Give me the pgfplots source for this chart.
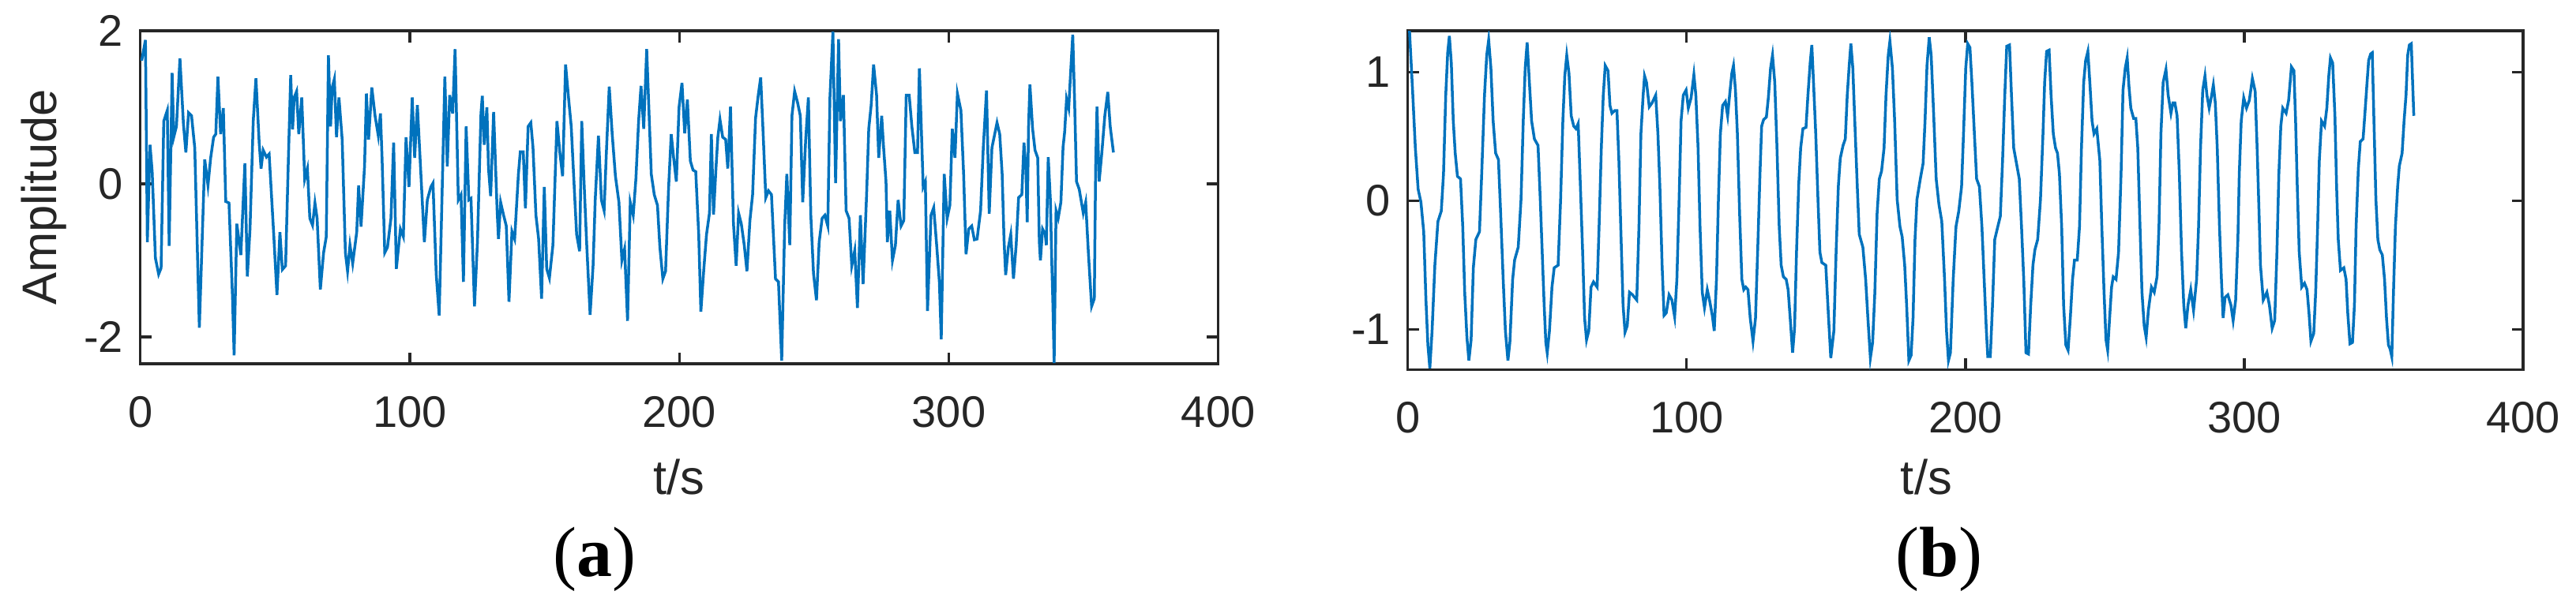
\documentclass[border=0pt]{standalone}
\usepackage{fontspec}
\setmainfont{Liberation Sans}
\newfontfamily\seriffont{Liberation Serif}
\usepackage{pgfplots}
\pgfplotsset{compat=1.18}
\usepackage{pgfplotstable}
\definecolor{mblue}{RGB}{0,114,189}
\definecolor{agray}{RGB}{38,38,38}
\pgfplotstableread{
t v
0.5 1.61
1.9 1.88
2.6 -0.76
3.6 0.51
4.4 0.16
5.6 -0.97
6.8 -1.18
7.7 -1.10
8.7 0.82
10.0 0.96
10.7 -0.81
11.8 1.45
12.4 0.61
13.4 0.75
14.7 1.64
16.0 0.78
16.9 0.41
17.9 0.93
19.0 0.89
20.2 0.47
21.9 -1.88
23.1 -0.56
23.9 0.32
25.1 -0.02
26.1 0.34
27.2 0.61
28.0 0.65
28.8 1.40
29.8 0.65
30.8 0.99
31.7 -0.23
32.9 -0.25
34.2 -1.48
34.8 -2.24
35.8 -0.52
37.3 -0.93
38.8 0.27
39.7 -1.21
40.7 -0.59
41.9 0.82
42.9 1.38
44.1 0.54
44.8 0.20
45.6 0.44
46.8 0.35
47.8 0.39
49.5 -0.66
50.7 -1.45
51.8 -0.63
52.7 -1.12
53.9 -1.07
54.9 0.27
55.8 1.42
56.5 0.71
57.1 1.13
58.0 1.21
58.8 0.65
59.9 1.13
61.0 0.06
62.0 0.20
62.9 -0.45
63.9 -0.54
64.8 -0.25
65.6 -0.45
66.8 -1.38
68.0 -0.90
69.0 -0.69
69.8 1.68
70.6 0.75
71.2 1.26
72.0 1.37
72.8 0.61
73.7 1.13
74.9 0.58
76.1 -0.90
76.9 -1.14
77.8 -0.80
78.8 -1.04
80.3 -0.63
81.0 -0.02
81.9 -0.56
83.2 0.23
83.9 1.18
84.7 0.58
85.9 1.26
87.1 0.89
88.3 0.63
89.1 0.92
89.7 0.34
90.7 -0.90
91.7 -0.83
93.0 -0.45
94.0 0.54
95.0 -1.11
96.5 -0.59
97.6 -0.69
98.6 0.61
99.7 -0.04
100.9 1.13
101.8 0.34
102.8 1.03
103.9 0.27
105.4 -0.76
106.5 -0.21
107.8 -0.04
108.6 0.01
109.8 -1.18
110.9 -1.72
112.2 0.20
113.0 1.40
113.9 0.23
114.8 1.16
115.9 0.92
116.8 1.76
118.0 -0.21
119.0 -0.14
119.9 -1.28
120.9 0.75
121.9 -0.21
122.7 -0.19
124.0 -1.60
125.1 -0.76
126.4 0.92
126.9 1.15
127.6 0.51
128.6 1.00
129.2 0.20
130.0 -0.16
131.1 0.94
132.4 -0.35
132.9 -0.72
133.7 -0.24
134.8 -0.41
135.8 -0.55
136.8 -1.54
137.9 -0.62
138.9 -0.72
140.3 0.13
141.0 0.42
142.1 0.42
142.9 -0.32
143.9 0.75
144.9 0.80
145.7 0.48
146.8 -0.41
147.8 -0.72
148.9 -1.50
149.9 -0.04
150.8 -1.11
151.8 -1.23
153.1 -0.80
154.6 0.82
155.7 0.40
156.7 0.10
157.8 1.56
158.8 1.16
159.9 0.75
161.2 -0.18
161.9 -0.66
163.0 -0.88
163.8 0.82
164.6 0.07
165.6 -0.76
166.9 -1.71
168.0 -1.07
168.8 -0.21
170.0 0.63
171.1 -0.21
172.1 -0.35
172.9 0.38
174.0 1.27
175.1 0.65
176.3 0.10
177.6 -0.24
178.7 -1.00
179.7 -0.85
180.8 -1.79
181.8 -0.24
182.9 -0.41
183.9 0.07
184.9 0.82
185.8 1.28
186.8 0.72
187.9 1.76
188.6 1.09
189.6 0.13
190.7 -0.14
191.9 -0.28
192.8 -0.83
193.9 -1.24
194.9 -1.14
196.0 -0.07
197.0 0.65
197.9 0.34
198.9 0.03
199.9 1.00
201.0 1.32
202.0 0.66
203.0 1.10
204.1 0.30
205.1 0.18
206.1 0.16
207.2 -0.66
208.0 -1.67
209.1 -1.11
210.1 -0.66
211.2 -0.38
211.9 0.65
212.7 -0.40
213.6 0.20
214.3 0.61
215.1 0.84
216.1 0.61
217.2 0.58
218.0 0.20
219.0 1.01
220.1 -0.52
221.1 -1.07
222.0 -0.38
223.0 -0.52
224.1 -0.80
225.1 -1.14
226.2 -0.48
227.2 -0.14
228.3 0.86
229.3 1.16
230.2 1.39
231.0 0.75
232.1 -0.18
233.1 -0.09
234.2 -0.14
235.7 -1.24
236.8 -1.28
238.0 -2.31
239.1 -0.55
239.9 0.13
241.0 -0.80
241.8 0.89
242.8 1.21
243.9 1.06
244.9 0.89
245.8 -0.24
246.9 0.58
247.9 1.13
248.8 -0.41
249.8 -1.17
250.9 -1.52
251.9 -0.76
253.0 -0.45
254.0 -0.41
255.1 -0.55
255.9 1.13
257.0 1.99
258.0 0.01
259.1 1.89
259.8 0.82
260.9 1.16
261.9 -0.35
263.0 -0.45
264.0 -1.07
265.1 -0.87
266.1 -1.62
267.2 -0.41
268.2 -1.31
269.5 -0.14
270.3 0.72
271.2 1.03
272.1 1.56
273.2 1.16
274.0 0.34
275.1 0.89
275.8 0.48
276.7 0.03
277.2 -0.76
278.1 -0.35
279.1 -1.00
280.2 -0.80
281.2 -0.21
282.3 -0.55
283.3 -0.48
284.2 1.16
285.3 1.16
286.3 0.75
287.4 0.41
288.4 0.41
289.1 1.51
290.5 -0.04
291.3 0.03
292.1 -1.66
293.4 -0.41
294.4 -0.31
295.5 -0.80
296.5 -1.28
297.2 -2.03
298.3 0.13
299.4 -0.45
300.4 -0.28
301.3 0.72
302.3 0.34
303.2 1.18
304.5 0.96
305.5 0.13
306.4 -0.92
307.4 -0.59
308.5 -0.55
309.5 -0.73
310.5 -0.72
311.8 -0.35
312.8 0.47
314.0 1.22
315.0 -0.39
316.0 0.47
317.9 0.80
318.9 0.65
319.8 0.13
320.5 -0.73
321.1 -1.19
322.1 -0.83
323.0 -0.66
324.0 -1.24
325.0 -0.80
325.9 -0.18
327.1 -0.14
327.9 0.54
328.6 0.20
329.1 -0.50
329.6 0.75
330.1 1.30
331.1 0.72
332.0 0.44
333.0 0.34
333.6 -0.76
334.0 -1.00
334.8 -0.59
335.8 -0.66
336.2 -0.80
336.9 0.35
337.7 -0.21
338.2 -1.00
338.6 -1.52
339.1 -2.34
339.8 -0.35
340.6 -0.45
341.6 -0.24
342.4 0.48
343.0 0.68
343.7 1.11
344.5 0.99
345.3 1.51
346.0 1.95
346.7 1.06
347.4 0.03
348.4 -0.07
349.9 -0.38
350.8 -0.24
351.8 -0.90
353.0 -1.60
354.0 -1.50
354.5 0.23
355.0 1.01
355.8 0.03
356.8 0.41
357.9 0.89
359.0 1.20
359.9 0.75
361.1 0.41
}\sigA
\pgfplotstableread{
t v
0.6 1.32
1.7 0.86
2.7 0.41
3.7 0.09
4.7 -0.01
5.7 -0.24
6.5 -0.77
7.2 -1.12
7.9 -1.30
8.7 -1.01
9.7 -0.50
10.8 -0.16
12.0 -0.08
12.8 0.21
13.6 0.82
14.3 1.15
14.9 1.28
15.6 1.07
16.3 0.62
17.0 0.37
17.8 0.19
18.9 0.17
19.7 -0.20
20.4 -0.71
21.2 -1.06
21.9 -1.24
22.7 -1.08
23.5 -0.52
24.4 -0.30
25.7 -0.24
26.5 0.21
27.5 0.82
28.3 1.13
29.0 1.25
29.8 1.03
30.6 0.62
31.5 0.37
32.5 0.32
33.3 -0.10
34.2 -0.61
35.0 -1.01
35.9 -1.24
36.6 -1.10
37.6 -0.61
38.3 -0.46
39.6 -0.36
40.6 0.01
41.4 0.62
42.1 1.03
42.8 1.23
43.6 0.92
44.4 0.62
45.4 0.48
46.7 0.43
47.5 0.01
48.2 -0.40
48.9 -0.81
49.5 -1.10
50.0 -1.18
50.8 -1.01
51.7 -0.67
52.5 -0.52
53.9 -0.50
54.8 0.01
55.6 0.62
56.3 0.97
57.0 1.13
57.8 0.99
58.6 0.66
59.5 0.58
60.3 0.56
61.1 0.60
61.9 0.11
62.7 -0.40
63.4 -0.91
64.1 -1.08
64.9 -1.01
65.7 -0.67
66.6 -0.63
67.9 -0.67
68.6 -0.20
69.4 0.41
70.1 0.82
70.8 1.05
71.8 1.01
72.5 0.74
73.2 0.68
74.2 0.70
75.0 0.70
75.7 0.31
76.5 -0.30
77.2 -0.81
77.9 -1.02
78.7 -0.97
79.5 -0.71
80.6 -0.73
82.1 -0.77
82.9 -0.20
83.6 0.52
84.4 0.82
84.9 0.97
85.6 0.92
86.6 0.73
87.6 0.76
88.9 0.82
89.7 0.52
90.4 0.11
91.2 -0.50
91.9 -0.89
92.7 -0.87
93.7 -0.73
94.7 -0.77
95.7 -0.90
96.5 -0.61
97.3 0.01
98.0 0.62
98.8 0.82
99.8 0.86
100.6 0.72
101.6 0.80
102.6 0.98
103.3 0.82
104.1 0.41
104.8 -0.20
105.6 -0.71
106.4 -0.83
107.4 -0.69
108.2 -0.77
109.2 -0.89
109.9 -1.01
110.7 -0.61
111.4 0.01
112.1 0.52
112.9 0.74
113.9 0.77
114.7 0.66
115.5 0.84
116.2 0.99
116.8 1.05
117.5 0.86
118.2 0.52
119.0 -0.10
119.8 -0.61
120.5 -0.69
121.2 -0.67
122.0 -0.69
122.8 -0.91
123.8 -1.09
124.7 -0.91
125.6 -0.30
126.3 0.21
126.9 0.58
127.6 0.63
128.6 0.65
129.3 0.80
130.1 1.03
130.8 1.13
131.6 0.92
132.4 0.41
133.2 -0.20
133.9 -0.50
134.7 -0.59
135.7 -0.61
136.4 -0.69
137.2 -0.93
138.0 -1.18
138.7 -0.99
139.4 -0.40
140.2 0.13
140.9 0.41
141.7 0.56
142.8 0.57
143.5 0.82
144.3 1.07
144.9 1.21
145.5 0.92
146.3 0.52
147.1 0.01
147.8 -0.40
148.5 -0.48
149.9 -0.50
150.9 -0.91
151.7 -1.22
152.8 -1.01
153.6 -0.40
154.4 0.11
155.1 0.33
156.1 0.43
156.9 0.48
157.6 0.82
158.3 1.05
158.9 1.22
159.6 1.03
160.3 0.62
161.2 0.11
161.9 -0.26
163.2 -0.36
164.2 -0.61
165.0 -0.91
165.9 -1.22
166.7 -1.10
167.5 -0.71
168.3 -0.10
169.1 0.17
169.9 0.23
170.8 0.41
171.5 0.82
172.3 1.13
172.9 1.24
173.8 1.03
174.6 0.62
175.5 0.01
176.5 -0.20
177.3 -0.28
178.2 -0.50
178.9 -0.81
179.7 -1.24
180.5 -1.20
181.2 -0.91
181.9 -0.30
182.6 0.01
183.8 0.17
184.8 0.29
185.5 0.62
186.2 1.05
187.0 1.27
187.7 1.13
188.5 0.72
189.5 0.17
190.5 -0.03
191.5 -0.16
192.5 -0.61
193.2 -1.01
193.9 -1.24
194.6 -1.18
195.6 -0.61
196.6 -0.20
197.6 -0.08
198.6 0.11
199.3 0.52
200.1 1.03
200.8 1.22
201.6 1.19
202.3 0.92
203.2 0.52
204.0 0.17
205.0 0.11
205.9 -0.20
206.7 -0.61
207.5 -1.01
208.0 -1.21
208.9 -1.21
209.7 -0.81
210.5 -0.30
211.6 -0.20
212.5 -0.12
213.3 0.31
214.1 0.82
214.8 1.20
215.8 1.21
216.5 0.82
217.3 0.41
218.3 0.29
219.3 0.17
220.1 -0.20
220.9 -0.61
221.7 -1.18
222.6 -1.19
223.4 -0.81
224.2 -0.50
224.9 -0.38
225.9 -0.30
226.9 0.01
227.8 0.52
228.4 0.92
229.1 1.16
230.0 1.17
230.7 0.82
231.5 0.52
232.3 0.41
233.0 0.37
233.7 0.21
234.5 -0.20
235.2 -0.81
236.0 -1.12
236.8 -1.16
237.6 -0.91
238.4 -0.61
239.1 -0.46
240.1 -0.46
240.9 -0.20
241.6 0.41
242.4 0.92
243.1 1.09
243.9 1.16
244.6 0.92
245.4 0.62
246.1 0.52
247.1 0.56
248.2 0.31
248.9 -0.20
249.7 -0.71
250.4 -1.08
251.0 -1.16
251.7 -0.91
252.4 -0.67
253.0 -0.59
254.0 -0.61
254.9 -0.40
255.8 0.21
256.5 0.86
257.3 1.03
258.0 1.11
258.6 0.90
259.3 0.72
260.3 0.64
261.1 0.64
261.8 0.41
262.6 -0.20
263.3 -0.71
264.1 -0.97
264.8 -1.06
265.6 -0.85
266.7 -0.67
267.7 -0.71
268.7 -0.59
269.4 -0.20
270.1 0.52
270.9 0.92
271.9 1.02
272.7 0.82
273.7 0.68
274.4 0.76
275.1 0.76
275.9 0.66
276.7 0.21
277.5 -0.40
278.3 -0.81
279.0 -0.99
279.8 -0.81
280.8 -0.69
281.8 -0.85
282.9 -0.61
283.6 -0.20
284.3 0.41
285.1 0.86
285.9 0.97
286.6 0.82
287.4 0.72
288.3 0.82
288.9 0.90
289.6 0.76
290.3 0.41
291.1 -0.20
291.8 -0.61
292.4 -0.91
293.1 -0.75
294.1 -0.73
295.2 -0.81
296.0 -0.93
296.9 -0.77
297.7 -0.30
298.2 0.21
298.9 0.62
299.8 0.80
300.8 0.72
301.8 0.78
302.9 0.95
303.9 0.85
304.6 0.41
305.3 -0.10
305.8 -0.50
306.8 -0.77
308.1 -0.71
309.0 -0.81
310.0 -0.99
310.9 -0.93
311.7 -0.40
312.4 0.21
313.1 0.58
313.8 0.72
315.0 0.68
315.9 0.78
316.9 1.04
317.8 1.01
318.4 0.62
319.0 0.11
319.7 -0.40
320.6 -0.67
321.6 -0.64
322.5 -0.69
323.2 -0.87
323.9 -1.09
324.9 -1.03
325.6 -0.71
326.3 -0.20
326.9 0.31
327.7 0.62
328.8 0.58
329.6 0.72
330.3 0.97
330.9 1.11
331.7 1.07
332.5 0.66
333.1 0.11
333.7 -0.30
334.5 -0.54
335.7 -0.52
336.5 -0.61
337.1 -0.87
337.9 -1.11
338.8 -1.10
339.5 -0.81
340.1 -0.20
340.9 0.25
341.6 0.46
342.6 0.48
343.2 0.66
343.9 0.88
344.6 1.09
345.3 1.14
345.9 1.15
346.5 0.62
347.2 0.01
347.9 -0.30
348.6 -0.38
349.5 -0.42
350.3 -0.61
351.0 -0.91
351.7 -1.12
352.3 -1.15
352.9 -1.21
353.5 -0.71
354.2 -0.20
355.0 0.11
355.6 0.27
356.6 0.37
357.3 0.62
358.0 0.82
358.6 1.13
359.2 1.21
359.9 1.22
360.4 0.90
360.8 0.66
}\sigB
\pgfplotsset{
  sigax/.style={
    scale only axis,
    xmin=0, xmax=400,
    xtick={0,100,200,300,400},
    axis line style={draw=agray, line width=0.65pt},
    tick style={draw=agray, line width=0.65pt},
    major tick length=2.9pt,
    tick align=inside,
    ticklabel style={font=\fontsize{11.2}{13}\selectfont, text=agray},
    /pgf/number format/assume math mode=true,
    xticklabel style={yshift=-4.66pt},
    yticklabel style={xshift=-0.8pt},
    label style={font=\fontsize{12.3}{14}\selectfont, text=agray},
    xlabel={t/s},
  }
}
\begin{document}
\begin{tikzpicture}
\useasboundingbox (0,0) rectangle (652.4pt,-153.4pt);
\begin{axis}[sigax, at={(35.54pt,-7.8pt)}, anchor=north west,
  width=273pt, height=84.4pt,
  ymin=-2.35, ymax=2.0, ytick={-2,0,2},
  xlabel style={at={(axis description cs:0.5,-0.3412)}, anchor=center},
  ylabel={Amplitude},
  ylabel style={at={(axis description cs:-0.0892,0.5)}, anchor=center},
]
\addplot[mblue, line width=0.7pt] table {\sigA};
\end{axis}
\begin{axis}[sigax, at={(356.54pt,-7.8pt)}, anchor=north west,
  width=282.46pt, height=85.86pt,
  ymin=-1.31, ymax=1.32, ytick={-1,0,1},
  xlabel style={at={(axis description cs:0.465,-0.3184)}, anchor=center},
]
\addplot[mblue, line width=0.7pt] table {\sigB};
\end{axis}
\node[font=\seriffont\fontsize{18}{20}\selectfont, text=black] at (150.6pt,-141.8pt) {(\textbf{a})};
\node[font=\seriffont\fontsize{18}{20}\selectfont, text=black] at (491pt,-141.8pt) {(\textbf{b})};
\end{tikzpicture}
\end{document}
